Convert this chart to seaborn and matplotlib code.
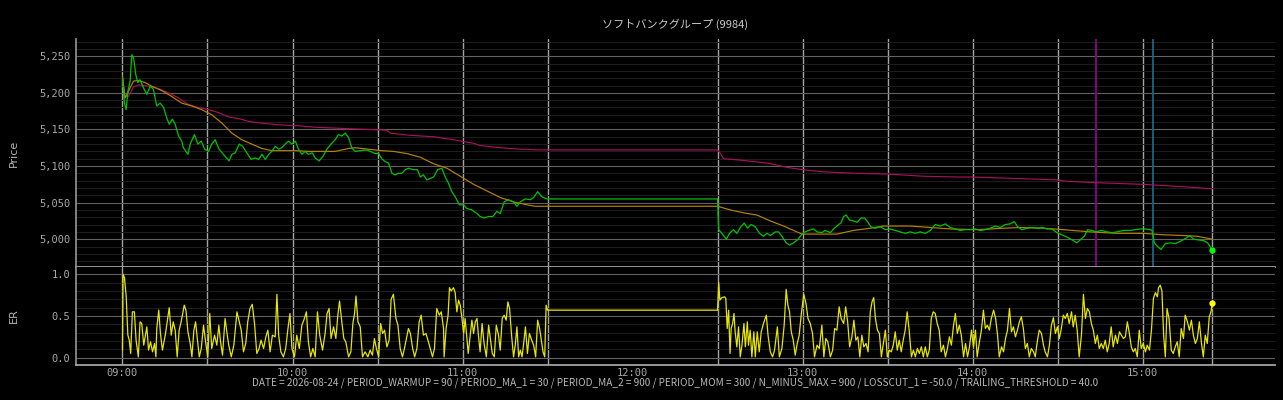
import pandas as pd
import seaborn as sns
import matplotlib.pyplot as plt
import matplotlib.dates as mdates

# minutes after 09:00
am_min = [
    0.0, 0.7, 1.3, 1.9, 2.7, 3.3, 3.9, 4.7, 5.4, 6.2,
    7.4, 8.6, 9.8, 10.9, 12.1, 13.3, 14.5, 15.6, 16.5, 17.6,
    18.6, 19.8, 20.9, 21.5, 23.1, 23.9, 25.4, 26.6, 27.8, 29.0,
    30.4, 31.5, 32.7, 34.1, 35.6, 37.6, 38.6, 39.8, 41.2, 42.4,
    43.9, 45.4, 46.8, 48.0, 49.2, 50.4, 51.6, 52.7, 53.9, 55.1,
    56.2, 57.4, 58.6, 59.8, 61.0, 62.1, 63.3, 64.5, 65.6, 67.0,
    68.0, 69.4, 70.9, 72.1, 73.6, 75.1, 76.2, 77.4, 78.6, 79.8,
    80.9, 82.1, 83.9, 86.2, 89.2, 90.4, 91.5, 92.7, 93.9, 95.1,
    96.2, 97.4, 98.6, 99.8, 100.9, 102.7, 104.1, 105.1, 106.2, 107.4,
    108.6, 109.8, 111.2, 112.7, 113.9, 115.1, 116.2, 117.4, 118.9, 120.4,
    121.5, 123.3, 125.1, 126.2, 127.6, 129.2, 130.7, 132.1, 133.3, 134.7,
    136.2, 138.0, 139.2, 140.4, 142.1, 143.9, 145.1, 146.5, 148.0, 149.2,
    150.0]
am_price = [
    5220, 5186, 5177, 5202, 5216, 5252, 5248, 5225, 5214, 5218,
    5207, 5198, 5209, 5205, 5182, 5186, 5180, 5166, 5157, 5164,
    5157, 5141, 5134, 5125, 5116, 5130, 5143, 5130, 5134, 5123,
    5120, 5130, 5136, 5123, 5116, 5107, 5116, 5118, 5130, 5127,
    5118, 5109, 5111, 5109, 5116, 5109, 5116, 5120, 5127, 5123,
    5125, 5130, 5134, 5130, 5134, 5123, 5116, 5120, 5116, 5118,
    5111, 5107, 5114, 5123, 5130, 5136, 5143, 5141, 5145, 5139,
    5125, 5120, 5121, 5122, 5117, 5117, 5110, 5106, 5104, 5090,
    5088, 5090, 5090, 5095, 5097, 5095, 5095, 5085, 5088, 5081,
    5083, 5085, 5095, 5097, 5085, 5076, 5065, 5058, 5047, 5047,
    5042, 5040, 5035, 5031, 5029, 5031, 5031, 5038, 5035, 5051,
    5054, 5051, 5045, 5051, 5055, 5054, 5057, 5065, 5058, 5056,
    5055]

pm_min = [
    210.0, 210.4, 211.5, 213.1, 214.2, 215.6, 216.8, 218.2, 219.4, 220.6,
    221.8, 223.3, 224.8, 226.2, 227.4, 228.6, 230.4, 231.5, 232.7, 234.2,
    235.4, 236.8, 238.2, 239.4, 240.4, 242.1, 243.9, 245.1, 246.8, 248.0,
    249.8, 251.2, 252.7, 253.5, 254.5, 255.4, 256.6, 258.0, 259.2, 260.6,
    261.8, 262.9, 264.1, 265.6, 267.4, 269.2, 270.9, 272.7, 274.5, 276.2,
    278.0, 279.8, 281.5, 283.3, 285.1, 286.8, 288.6, 290.4, 292.1, 293.9,
    295.6, 297.4, 299.2, 300.9, 302.7, 304.5, 306.2, 308.0, 309.8, 311.5,
    313.3, 314.7, 315.9, 317.4, 319.2, 320.9, 322.7, 324.5, 326.2, 328.0,
    329.8, 331.5, 333.3, 335.1, 336.8, 338.2, 339.4, 340.6, 342.1, 343.6,
    345.3, 347.4, 349.2, 350.9, 353.3, 355.6, 357.4, 359.2, 360.9, 362.5,
    363.3, 364.1, 365.3, 366.5, 368.0, 369.8, 371.5, 373.3, 375.1, 376.6,
    378.0, 379.8, 381.5, 382.9, 383.9, 384.6]
pm_price = [
    5055, 5013, 5008, 5000, 5008, 5013, 5008, 5017, 5022, 5015,
    5020, 5017, 5008, 5004, 5008, 5005, 5010, 5010, 5004, 4995,
    4992, 4995, 4999, 5005, 5009, 5012, 5014, 5010, 5009, 5012,
    5009, 5015, 5020, 5022, 5031, 5033, 5026, 5025, 5023, 5029,
    5029, 5024, 5017, 5015, 5017, 5013, 5014, 5012, 5010, 5008,
    5010, 5008, 5010, 5008, 5012, 5020, 5018, 5021, 5016, 5014,
    5012, 5013, 5013, 5014, 5012, 5013, 5015, 5018, 5016, 5020,
    5021, 5024, 5017, 5013, 5015, 5016, 5015, 5016, 5014, 5014,
    5009, 5006, 5003, 4999, 4995, 5000, 5004, 5013, 5012, 5010,
    5012, 5010, 5009, 5010, 5012, 5012, 5013, 5014, 5014, 5013,
    5012, 4995, 4990, 4986, 4994, 4995, 4994, 4997, 5001, 5005,
    5000, 4999, 4998, 4995, 4989, 4985]

ma1_min = [
    0.0, 0.9, 2.1, 3.9, 5.6, 8.0, 10.4, 13.9, 17.4, 20.9,
    24.5, 28.0, 31.5, 35.0, 38.6, 42.1, 45.6, 49.2, 52.7, 56.2,
    60.9, 65.6, 70.4, 75.1, 79.8, 82.1, 86.8, 91.5, 95.6, 100.4,
    105.1, 109.8, 114.5, 119.2, 123.9, 128.6, 133.3, 138.0, 142.7, 145.6,
    150.0,
    210.0, 214.5, 219.2, 223.9, 228.6, 233.3, 236.8, 239.8, 245.1, 252.1,
    258.0, 263.9, 268.6, 278.0, 285.1, 292.1, 301.5, 310.9, 316.8, 325.1,
    332.1, 341.5, 350.9, 360.4, 367.4, 374.5, 379.2, 384.6]
ma1_val = [
    5223, 5193, 5202, 5216, 5217, 5214, 5209, 5203, 5195, 5186,
    5182, 5177, 5170, 5159, 5145, 5136, 5130, 5124, 5121, 5121,
    5121, 5120, 5120, 5120, 5124, 5125, 5123, 5121, 5120, 5117,
    5112, 5103, 5097, 5086, 5075, 5066, 5057, 5051, 5047, 5045,
    5045,
    5045, 5040, 5036, 5033, 5025, 5018, 5012, 5007, 5007, 5007,
    5012, 5015, 5018, 5018, 5016, 5014, 5013, 5015, 5016, 5015,
    5013, 5010, 5008, 5008, 5006, 5005, 5004, 5000]

ma2_min = [
    0.0, 0.9, 2.1, 3.9, 5.6, 9.2, 12.7, 16.2, 19.8, 23.3,
    26.8, 30.4, 33.9, 37.4, 40.9, 44.5, 50.4, 56.2, 62.1, 68.0,
    73.9, 79.8, 86.8, 93.3, 94.5, 101.5, 109.8, 116.8, 123.9, 126.2,
    133.3, 140.4, 147.4, 150.0,
    210.0, 211.2, 212.1, 218.2, 227.6, 234.7, 240.0, 247.6, 259.4, 270.0,
    282.9, 294.7, 300.0, 330.0, 333.5, 345.3, 359.9, 364.1, 368.8, 384.6]
ma2_val = [
    5220, 5195, 5195, 5208, 5211, 5209, 5206, 5200, 5193, 5184,
    5180, 5177, 5173, 5167, 5165, 5161, 5158, 5156, 5155, 5153,
    5152, 5151, 5150, 5149, 5145, 5142, 5140, 5136, 5131, 5128,
    5125, 5123, 5122, 5122,
    5122, 5116, 5110, 5108, 5104, 5098, 5095, 5092, 5090, 5089,
    5086, 5085, 5085, 5081, 5079, 5077, 5075, 5074, 5073, 5069]

er_am_min = [
    0.0, 0.2, 0.7, 1.3, 1.9, 2.4, 2.9, 3.5, 4.2, 4.8,
    5.6, 6.2, 6.8, 7.5, 8.6, 9.2, 9.9, 10.6, 11.3, 11.8,
    12.1, 12.8, 13.4, 14.1, 15.1, 15.6, 16.5, 17.2, 17.9, 18.6,
    19.3, 20.0, 20.7, 21.8, 22.4, 23.1, 23.9, 24.5, 25.2, 25.8,
    26.4, 27.1, 27.8, 28.6, 29.4, 30.1, 30.8, 31.5, 32.5, 33.3,
    34.0, 34.6, 35.3, 36.2, 36.9, 37.5, 38.4, 39.3, 40.4, 41.2,
    41.9, 42.7, 43.5, 44.2, 45.0, 45.8, 46.6, 47.4, 48.2, 48.9,
    49.8, 50.6, 51.3, 52.1, 52.9, 53.9, 54.5, 55.1, 55.9, 56.8,
    57.6, 58.4, 59.1, 59.8, 60.7, 61.5, 62.4, 63.3, 64.0, 64.9,
    65.6, 66.4, 67.2, 68.0, 68.8, 69.6, 70.6, 71.5, 72.2, 72.9,
    73.6, 74.5, 75.3, 76.0, 76.6, 77.4, 78.1, 78.8, 79.8, 80.6,
    81.3, 81.9, 82.4, 83.1, 83.9, 84.7, 85.6, 86.6, 87.4, 88.2,
    88.9, 89.6, 90.4, 91.1, 91.8, 92.5, 93.3, 94.1, 94.8, 95.6,
    96.5, 97.2, 98.0, 98.8, 99.5, 100.2, 100.9, 101.6, 102.4, 103.1,
    103.9, 104.7, 105.4, 106.2, 107.1, 107.8, 108.6, 109.4, 110.1, 110.9,
    111.8, 112.5, 113.3, 113.5, 114.2, 114.9, 115.4, 116.0, 116.8, 117.4,
    118.0, 118.6, 119.2, 119.8, 120.4, 120.9, 121.5, 122.0, 122.7, 123.3,
    123.9, 124.5, 125.1, 125.6, 126.2, 126.9, 127.6, 128.4, 129.2, 129.8,
    130.5, 131.2, 131.9, 132.7, 133.3, 134.0, 134.7, 135.4, 136.0, 136.6,
    137.3, 138.0, 138.6, 139.2, 139.8, 140.4, 141.0, 141.5, 142.2, 142.9,
    143.6, 144.4, 145.1, 145.8, 146.5, 147.2, 147.8, 148.4, 149.0, 149.5,
    150.0]
er_am_val = [
    0.09, 1.00, 0.96, 0.74, 0.27, 0.21, 0.05, 0.55, 0.55, 0.21,
    0.01, 0.43, 0.41, 0.15, 0.37, 0.09, 0.19, 0.07, 0.17, 0.01,
    0.35, 0.57, 0.29, 0.09, 0.27, 0.39, 0.60, 0.27, 0.43, 0.33,
    0.01, 0.33, 0.43, 0.63, 0.57, 0.31, 0.17, 0.01, 0.33, 0.43,
    0.23, 0.01, 0.11, 0.39, 0.17, 0.01, 0.53, 0.11, 0.27, 0.15,
    0.39, 0.19, 0.03, 0.47, 0.29, 0.15, 0.01, 0.15, 0.55, 0.43,
    0.33, 0.07, 0.17, 0.43, 0.59, 0.64, 0.41, 0.05, 0.11, 0.21,
    0.11, 0.25, 0.33, 0.07, 0.27, 0.25, 0.76, 0.27, 0.07, 0.01,
    0.11, 0.35, 0.53, 0.11, 0.01, 0.27, 0.11, 0.39, 0.45, 0.55,
    0.19, 0.01, 0.11, 0.01, 0.55, 0.27, 0.09, 0.29, 0.53, 0.59,
    0.23, 0.37, 0.23, 0.51, 0.68, 0.43, 0.23, 0.19, 0.01, 0.07,
    0.41, 0.53, 0.74, 0.43, 0.37, 0.01, 0.07, 0.01, 0.09, 0.03,
    0.23, 0.11, 0.01, 0.41, 0.29, 0.33, 0.13, 0.21, 0.70, 0.76,
    0.47, 0.39, 0.11, 0.01, 0.11, 0.23, 0.35, 0.29, 0.11, 0.01,
    0.11, 0.43, 0.51, 0.27, 0.29, 0.21, 0.11, 0.01, 0.11, 0.59,
    0.51, 0.55, 0.35, 0.01, 0.35, 0.51, 0.84, 0.80, 0.84, 0.78,
    0.55, 0.69, 0.63, 0.47, 0.29, 0.47, 0.25, 0.05, 0.27, 0.45,
    0.29, 0.43, 0.47, 0.27, 0.07, 0.41, 0.17, 0.01, 0.39, 0.23,
    0.05, 0.01, 0.39, 0.27, 0.09, 0.47, 0.51, 0.45, 0.67, 0.59,
    0.27, 0.01, 0.15, 0.37, 0.01, 0.09, 0.01, 0.15, 0.37, 0.05,
    0.29, 0.21, 0.15, 0.01, 0.45, 0.35, 0.21, 0.07, 0.01, 0.63,
    0.57]

er_pm_min = [
    210.0, 210.4, 210.8, 211.5, 212.5, 212.9, 213.4, 213.9, 214.4, 214.8,
    215.3, 215.8, 216.2, 216.8, 217.4, 218.0, 218.6, 219.3, 219.8, 220.5,
    220.9, 221.5, 222.1, 222.8, 223.3, 224.0, 224.7, 225.4, 226.2, 227.2,
    227.8, 228.6, 229.4, 230.1, 231.1, 231.8, 232.7, 233.5, 234.2, 234.8,
    235.4, 236.0, 236.7, 237.4, 238.1, 238.8, 239.5, 240.4, 241.2, 241.9,
    242.7, 243.5, 244.2, 245.1, 245.9, 246.8, 247.5, 248.2, 248.9, 249.8,
    250.6, 251.3, 252.1, 252.9, 253.6, 254.5, 255.2, 255.9, 256.6, 257.4,
    258.1, 258.8, 259.5, 260.2, 260.9, 261.6, 262.4, 263.1, 263.9, 264.5,
    265.1, 265.7, 266.4, 267.1, 267.8, 268.5, 269.2, 269.9, 270.6, 271.3,
    272.0, 272.7, 273.4, 274.1, 274.8, 275.5, 276.2, 276.9, 277.6, 278.4,
    279.1, 279.8, 280.5, 281.2, 281.9, 282.6, 283.3, 284.0, 284.7, 285.4,
    286.1, 286.8, 287.5, 288.2, 288.9, 289.7, 290.4, 291.1, 291.8, 292.5,
    293.2, 293.9, 294.6, 295.3, 296.0, 296.8, 297.5, 298.2, 298.9, 299.6,
    300.3, 301.0, 301.6, 302.4, 303.1, 303.8, 304.5, 305.2, 305.9, 306.6,
    307.4, 308.1, 308.8, 309.4, 310.2, 310.9, 311.6, 312.3, 313.0, 313.7,
    314.4, 315.1, 315.8, 316.5, 317.2, 317.9, 318.6, 319.3, 320.0, 320.7,
    321.5, 322.1, 322.8, 323.5, 324.3, 325.0, 325.6, 326.4, 327.1, 327.8,
    328.5, 329.2, 329.9, 330.6, 331.3, 332.0, 332.7, 333.4, 334.1, 334.9,
    335.5, 336.2, 336.9, 337.6, 338.4, 339.1, 339.8, 340.5, 341.2, 341.9,
    342.6, 343.3, 344.0, 344.7, 345.4, 346.1, 346.8, 347.5, 348.2, 348.9,
    349.6, 350.4, 351.1, 351.8, 352.5, 353.2, 353.9, 354.6, 355.3, 356.0,
    356.7, 357.4, 358.1, 358.8, 359.5, 360.2, 361.0, 361.6, 362.4, 363.1,
    363.8, 364.5, 365.2, 365.6, 366.2, 366.8, 367.4, 368.0, 368.6, 369.3,
    370.1, 370.8, 371.5, 372.2, 372.9, 373.6, 374.4, 375.0, 375.8, 376.5,
    377.2, 377.9, 378.6, 379.3, 380.0, 380.7, 381.4, 382.1, 382.8, 383.5,
    384.1, 384.6]
er_pm_val = [
    0.57, 0.90, 0.69, 0.72, 0.73, 0.71, 0.35, 0.57, 0.05, 0.35,
    0.41, 0.53, 0.31, 0.13, 0.37, 0.01, 0.15, 0.41, 0.13, 0.43,
    0.15, 0.33, 0.01, 0.31, 0.01, 0.31, 0.07, 0.31, 0.41, 0.51,
    0.27, 0.07, 0.01, 0.09, 0.37, 0.01, 0.11, 0.39, 0.82, 0.63,
    0.55, 0.31, 0.21, 0.03, 0.17, 0.27, 0.51, 0.76, 0.65, 0.47,
    0.41, 0.29, 0.01, 0.15, 0.11, 0.39, 0.01, 0.23, 0.19, 0.01,
    0.09, 0.35, 0.33, 0.61, 0.47, 0.41, 0.61, 0.43, 0.13, 0.25,
    0.45, 0.21, 0.25, 0.01, 0.27, 0.13, 0.17, 0.07, 0.55, 0.67,
    0.72, 0.47, 0.33, 0.29, 0.01, 0.17, 0.33, 0.01, 0.09, 0.07,
    0.15, 0.31, 0.09, 0.21, 0.07, 0.21, 0.33, 0.55, 0.33, 0.01,
    0.09, 0.01, 0.11, 0.05, 0.13, 0.01, 0.13, 0.01, 0.09, 0.47,
    0.55, 0.53, 0.41, 0.33, 0.07, 0.15, 0.01, 0.11, 0.25, 0.15,
    0.37, 0.53, 0.29, 0.39, 0.27, 0.01, 0.17, 0.01, 0.13, 0.33,
    0.13, 0.33, 0.01, 0.19, 0.33, 0.57, 0.35, 0.39, 0.33, 0.47,
    0.57, 0.47, 0.27, 0.01, 0.13, 0.07, 0.23, 0.33, 0.59, 0.31,
    0.37, 0.25, 0.33, 0.43, 0.49, 0.35, 0.11, 0.17, 0.01, 0.11,
    0.07, 0.01, 0.19, 0.33, 0.29, 0.15, 0.07, 0.01, 0.15, 0.39,
    0.48, 0.29, 0.37, 0.23, 0.35, 0.51, 0.47, 0.53, 0.41, 0.55,
    0.37, 0.51, 0.33, 0.01, 0.27, 0.76, 0.47, 0.59, 0.55, 0.41,
    0.33, 0.17, 0.27, 0.11, 0.17, 0.11, 0.21, 0.07, 0.17, 0.37,
    0.13, 0.27, 0.17, 0.31, 0.27, 0.23, 0.25, 0.43, 0.29, 0.13,
    0.07, 0.11, 0.01, 0.33, 0.11, 0.17, 0.07, 0.15, 0.09, 0.33,
    0.71, 0.78, 0.73, 0.84, 0.87, 0.80, 0.27, 0.01, 0.59, 0.47,
    0.09, 0.05, 0.13, 0.19, 0.01, 0.35, 0.23, 0.51, 0.43, 0.33,
    0.45, 0.27, 0.17, 0.23, 0.43, 0.19, 0.01, 0.27, 0.17, 0.49,
    0.55, 0.66]

# buy / sell signal times (minutes after 09:00)
signal_min = [343.6, 363.6]
signal_colors = ["#8c008c", "#1a6484"]

title = "ソフトバンクグループ (9984)"
footer = ("DATE = 2026-08-24 / PERIOD_WARMUP = 90 / PERIOD_MA_1 = 30 / PERIOD_MA_2 = 900 / "
          "PERIOD_MOM = 300 / N_MINUS_MAX = 900 / LOSSCUT_1 = -50.0 / TRAILING_THRESHOLD = 40.0")

base = pd.Timestamp("2026-08-24 09:00")


def to_time(mins):
    return base + pd.to_timedelta(pd.Series(mins, dtype=float), unit="min")


price = pd.DataFrame({"t": to_time(am_min + pm_min), "v": am_price + pm_price})
ma1 = pd.DataFrame({"t": to_time(ma1_min), "v": ma1_val})
ma2 = pd.DataFrame({"t": to_time(ma2_min), "v": ma2_val})
er = pd.DataFrame({"t": to_time(er_am_min + er_pm_min), "v": er_am_val + er_pm_val})

sns.set_theme(style="dark", rc={
    "figure.facecolor": "black",
    "axes.facecolor": "black",
    "axes.edgecolor": "#9a9a9a",
    "text.color": "#c8c8c8",
    "axes.labelcolor": "#b4b4b4",
    "xtick.color": "#a8a8a8",
    "ytick.color": "#a8a8a8",
})
plt.rcParams["font.family"] = ["Noto Sans CJK JP", "DejaVu Sans"]

W, H = 1283, 400
fig = plt.figure(figsize=(W / 100, H / 100), dpi=100)
left, right = 76, 1275
ax1 = fig.add_axes([left / W, 1 - 267 / H, (right - left) / W, (267 - 39) / H])
ax2 = fig.add_axes([left / W, 1 - 365 / H, (right - left) / W, (365 - 267) / H], sharex=ax1)

sns.lineplot(data=ma2, x="t", y="v", ax=ax1, color="#a8105a", linewidth=0.85, estimator=None, sort=False)
sns.lineplot(data=ma1, x="t", y="v", ax=ax1, color="#b88400", linewidth=0.85, estimator=None, sort=False)
sns.lineplot(data=price, x="t", y="v", ax=ax1, color="#00c400", linewidth=0.9, estimator=None, sort=False)
ax1.plot(price["t"].iloc[-1], price["v"].iloc[-1], "o", color="#00ff00", markersize=3.5)

sns.lineplot(data=er, x="t", y="v", ax=ax2, color="#e6e600", linewidth=0.9, estimator=None, sort=False)
ax2.plot(er["t"].iloc[-1], er["v"].iloc[-1], "o", color="#ffff00", markersize=3.5)

for m, c in zip(signal_min, signal_colors):
    ax1.axvline(base + pd.Timedelta(minutes=m), color=c, linewidth=1.3, zorder=1)

# vertical grid: every 30 minutes except the lunch break, plus the last bar
vtimes = [base + pd.Timedelta(minutes=m) for m in range(0, 361, 30) if m != 180]
vtimes.append(price["t"].iloc[-1])
for ax in (ax1, ax2):
    for t in vtimes:
        ax.axvline(t, color="#a4a4a4", linewidth=1.0, zorder=0.5)

ax1.set_ylim(4962, 5273.6)
ax2.set_ylim(-0.088, 1.088)
ax1.set_xlim(base - pd.Timedelta(minutes=16.4), base + pd.Timedelta(minutes=406.7))

mono = "DejaVu Sans Mono"
pticks = [5000, 5050, 5100, 5150, 5200, 5250]
ax1.set_yticks(pticks, labels=[f"{v:,}" for v in pticks], fontfamily=mono, fontsize=7.5)
ax1.set_yticks(range(4970, 5271, 10), minor=True)
eticks = [0.0, 0.5, 1.0]
ax2.set_yticks(eticks, labels=[f"{v:.1f}" for v in eticks], fontfamily=mono, fontsize=7.5)
ax2.set_yticks([i / 10 for i in range(0, 11)], minor=True)

hours = [base + pd.Timedelta(hours=h) for h in range(0, 7)]
ax2.set_xticks(mdates.date2num(hours), labels=[t.strftime("%H:%M") for t in hours],
               fontfamily=mono, fontsize=7.5)
ax1.tick_params(axis="x", labelbottom=False)

for ax in (ax1, ax2):
    ax.grid(False)
    ax.grid(axis="y", which="major", color="#626262", linewidth=0.8)
    ax.grid(axis="y", which="minor", color="#1e1e1e", linewidth=0.7)
    ax.tick_params(axis="y", which="both", length=0, pad=4)
    ax.tick_params(axis="x", which="major", direction="in", length=3, color="#a0a0a0", pad=2)
    ax.tick_params(axis="x", which="minor", length=0)
    ax.spines["top"].set_visible(False)
    ax.spines["right"].set_visible(False)
    ax.spines["left"].set_color("#909090")
    ax.spines["bottom"].set_color("#a8a8a8")
    ax.set_axisbelow(True)

ax1.set_ylabel("Price", fontsize=8, fontfamily="DejaVu Sans")
ax2.set_ylabel("ER", fontsize=8, fontfamily="DejaVu Sans")
ax1.yaxis.set_label_coords(-0.048, 0.5)
ax2.yaxis.set_label_coords(-0.048, 0.5)
ax1.set_xlabel("")
ax2.set_xlabel(footer, fontsize=7.2, color="#b8b8b8", labelpad=0)
ax1.set_title(title, fontsize=8, color="#c8c8c8", pad=8)

fig.savefig("out.png", dpi=100, facecolor="black")
